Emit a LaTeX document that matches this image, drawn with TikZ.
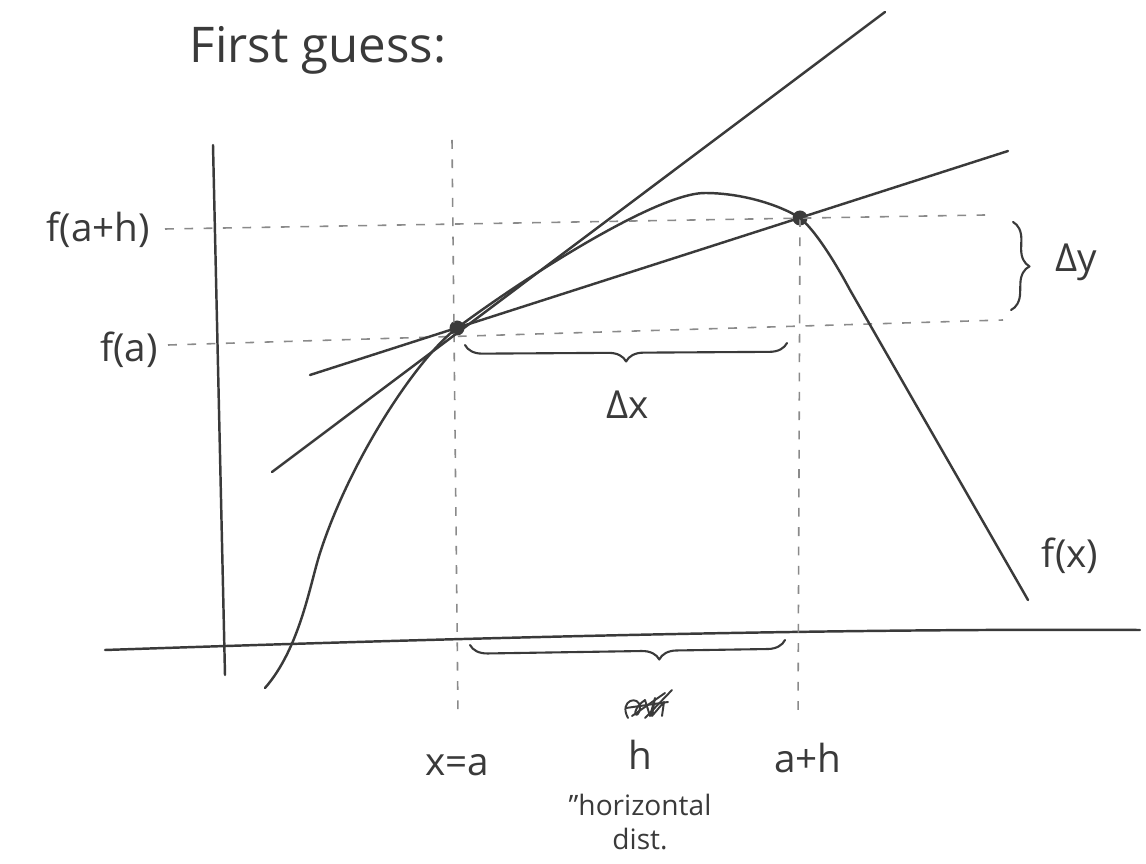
\documentclass[tikz,border=0pt]{standalone}
\usepackage{fontspec}
\setmainfont{Open Sans}
\usetikzlibrary{decorations.pathreplacing}
\definecolor{pencil}{HTML}{3A3A3A}
\definecolor{guidecol}{HTML}{8A8A8A}
\tikzset{
  ink/.style={draw=pencil, line width=1.4pt, line cap=round, line join=round},
  guide/.style={draw=guidecol, line width=0.9pt, dash pattern=on 5pt off 6pt},
  dot/.style={circle, fill=pencil, inner sep=0pt, minimum size=0.3cm},
  lbl/.style={text=pencil, inner sep=1pt, font=\fontsize{22}{26}\selectfont},
  small/.style={text=pencil, inner sep=1pt, font=\fontsize{16}{19}\selectfont, align=center},
  bracestyle/.style={ink, line width=1.2pt, decorate, decoration={brace, amplitude=0.35cm}}
}
\begin{document}
\begin{tikzpicture}[x=0.02cm,y=-0.02cm]
\useasboundingbox (0,0) rectangle (1146,864);
% title
\node[text=pencil, font=\fontsize{28}{32}\selectfont] (title) at (318,50) {First guess:};
% axes
\coordinate (yt) at (213,145); \coordinate (yb) at (225,675);
\coordinate (xl) at (105,650); \coordinate (xr) at (1140,630);
\draw[ink] (yt) -- (yb);
\draw[ink] (xl) .. controls (400,640) and (800,628) .. (xr);
% key points
\node[dot] (A) at (457,328) {};
\node[dot] (B) at (800,218) {};
% guide lines
\coordinate (vat) at (452,140); \coordinate (vab) at (458,715);
\coordinate (vbb) at (798,720);
\coordinate (hbl) at (165,229); \coordinate (hbr) at (985,215);
\coordinate (hal) at (168,345); \coordinate (har) at (1003,320);
\draw[guide] (vat) -- (vab);
\draw[guide] (B.center) -- (vbb);
\draw[guide] (hbl) -- (hbr);
\draw[guide] (hal) -- (har);
% tangent and secant
\coordinate (t1) at (272,472); \coordinate (t2) at (885,12);
\coordinate (s1) at (310,375); \coordinate (s2) at (1008,151);
\draw[ink] (t1) -- (t2);
\draw[ink] (s1) -- (s2);
% function curve
\coordinate (c0) at (265,688); \coordinate (c1) at (320,553);
\coordinate (pk) at (705,193); \coordinate (c3) at (850,290);
\coordinate (c4) at (1028,600);
\draw[ink] (c0) .. controls (300,648) and (310,584) .. (c1)
  .. controls (350,460) and (417,358) .. (A.center)
  .. controls (517,283) and (655,193) .. (pk)
  .. controls (742,193) and (780,205) .. (B.center)
  .. controls (815,230) and (835,262) .. (c3) -- (c4);
% labels on y axis
\node[lbl, anchor=east] (fah) at (152,230) {f(a+h)};
\node[lbl, anchor=east] (fa) at (160,350) {f(a)};
% braces
\coordinate (dx1) at (465,345); \coordinate (dx2) at (787,343);
\draw[bracestyle, decoration={mirror}] (dx1) -- (dx2);
\node[lbl] (dxl) at (628,405) {Δx};
\coordinate (dy1) at (1013,222); \coordinate (dy2) at (1011,310);
\draw[bracestyle] (dy1) -- (dy2);
\node[lbl] (dyl) at (1076,262) {Δy};
\coordinate (h1) at (470,645); \coordinate (h2) at (785,640);
\draw[bracestyle, decoration={mirror, aspect=0.6}] (h1) -- (h2);
% scribble (crossed-out word)
\draw[ink, line width=1.1pt] (628,718) .. controls (618,700) and (640,694) .. (640,708)
  .. controls (638,722) and (628,712) .. (645,700) -- (650,716) -- (655,698)
  -- (652,716) -- (664,702) -- (662,716);
\draw[ink, line width=1.1pt] (626,708) -- (668,702);
\draw[ink, line width=1.1pt] (632,716) -- (665,693);
\draw[ink, line width=1.1pt] (645,718) -- (672,690);
% x labels
\node[lbl] (xa) at (457,765) {x=a};
\node[lbl] (hl) at (640,755) {h};
\node[lbl] (ahl) at (808,758) {a+h};
\node[small] (hd) at (640,822) {''horizontal\\dist.};
\node[lbl] (fx) at (1070,556) {f(x)};
\end{tikzpicture}
\end{document}
